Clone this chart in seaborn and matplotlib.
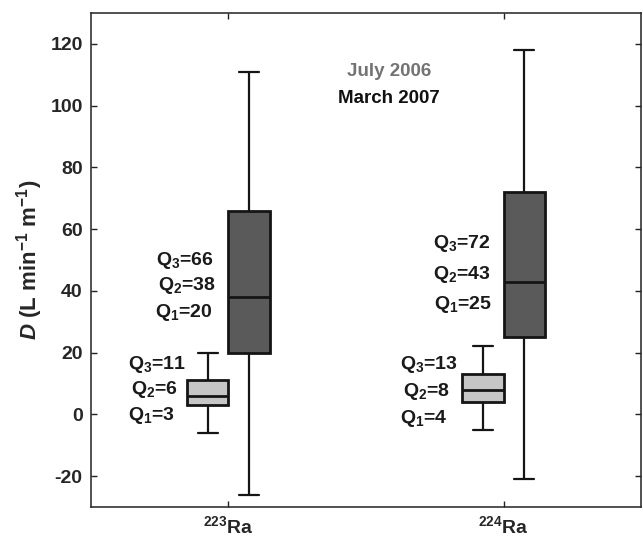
import numpy as np
import pandas as pd
import matplotlib
matplotlib.use('Agg')
import matplotlib.pyplot as plt
import seaborn as sns

# categories
isotopes = ['223Ra', '224Ra']
isotope_labels = [r'$^{\mathbf{223}}$Ra', r'$^{\mathbf{224}}$Ra']
campaigns = ['July 2006', 'March 2007']

# five-number summaries: whisker low, Q1, Q2, Q3, whisker high
jul_223 = [-6, 3, 6, 11, 20]
mar_223 = [-26, 20, 38, 66, 111]
jul_224 = [-5, 4, 8, 13, 22]
mar_224 = [-21, 25, 43, 72, 118]

yticks = [-20, 0, 20, 40, 60, 80, 100, 120]

rows = []
for iso, camp, vals in [('223Ra', 'July 2006', jul_223), ('223Ra', 'March 2007', mar_223),
                        ('224Ra', 'July 2006', jul_224), ('224Ra', 'March 2007', mar_224)]:
    for v in vals:
        rows.append({'isotope': iso, 'campaign': camp, 'D': v})
df = pd.DataFrame(rows)

sns.set_style('ticks')
plt.rcParams['font.family'] = ['Liberation Sans', 'DejaVu Sans']
plt.rcParams['font.weight'] = 'bold'
plt.rcParams['mathtext.fontset'] = 'custom'
plt.rcParams['mathtext.rm'] = 'Liberation Sans:bold'
plt.rcParams['mathtext.bf'] = 'Liberation Sans:bold'
plt.rcParams['mathtext.it'] = 'Liberation Sans:italic:bold'
plt.rcParams['mathtext.default'] = 'bf'

fig = plt.figure(figsize=(6.43, 5.43), dpi=100)
ax = fig.add_axes([0.1415, 0.0663, 0.8554, 0.9098])

sns.boxplot(data=df, x='isotope', y='D', hue='campaign', order=isotopes, hue_order=campaigns,
            palette={'July 2006': '#c6c6c6', 'March 2007': '#5a5a5a'}, saturation=1,
            width=0.3, gap=0, whis=(0, 100), linecolor='#151515', linewidth=1.6,
            boxprops={'linewidth': 2.0}, medianprops={'linewidth': 2.0},
            legend=False, ax=ax)

ax.set_xlim(-0.5, 1.5)
ax.set_ylim(-30, 130)
ax.set_yticks(yticks)
ax.set_yticklabels([str(t) for t in yticks])
ax.set_xticks([0, 1])
ax.set_xticklabels(isotope_labels, fontsize=16)
ax.set_xlabel('')
ax.set_ylabel(r'$\mathit{D}$ (L min$^{\mathbf{-1}}$ m$^{\mathbf{-1}}$)', fontsize=16,
              fontweight='bold', labelpad=4)
ax.tick_params(axis='both', direction='in', length=4, width=1.0, top=True, right=True,
               labelsize=14, color='#222222')
ax.tick_params(axis='y', pad=6)
ax.tick_params(axis='x', pad=6)
for s in ax.spines.values():
    s.set_visible(True)
    s.set_linewidth(1.1)
    s.set_color('#222222')

# quartile annotations (text layout in data units)
q_texts = [
    (['Q$_3$=11', 'Q$_2$=6', 'Q$_1$=3'], [-0.367, -0.356, -0.367], [14.7, 6.6, -1.9]),
    (['Q$_3$=66', 'Q$_2$=38', 'Q$_1$=20'], [-0.265, -0.255, -0.269], [48.4, 40.4, 31.6]),
    (['Q$_3$=13', 'Q$_2$=8', 'Q$_1$=4'], [0.625, 0.636, 0.625], [14.7, 6.0, -2.7]),
    (['Q$_3$=72', 'Q$_2$=43', 'Q$_1$=25'], [0.742, 0.742, 0.749], [54.0, 44.0, 34.2]),
]
for labels, xs, ys in q_texts:
    for lab, x, y in zip(labels, xs, ys):
        ax.text(x, y, lab, ha='left', va='baseline', fontsize=14, fontweight='bold', color='#1a1a1a')

ax.text(0.585, 109.5, campaigns[0], ha='center', va='baseline', fontsize=13.5,
        fontweight='bold', color='#737373')
ax.text(0.585, 100.7, campaigns[1], ha='center', va='baseline', fontsize=13.5,
        fontweight='bold', color='#111111')

fig.savefig('out.png', dpi=100)
